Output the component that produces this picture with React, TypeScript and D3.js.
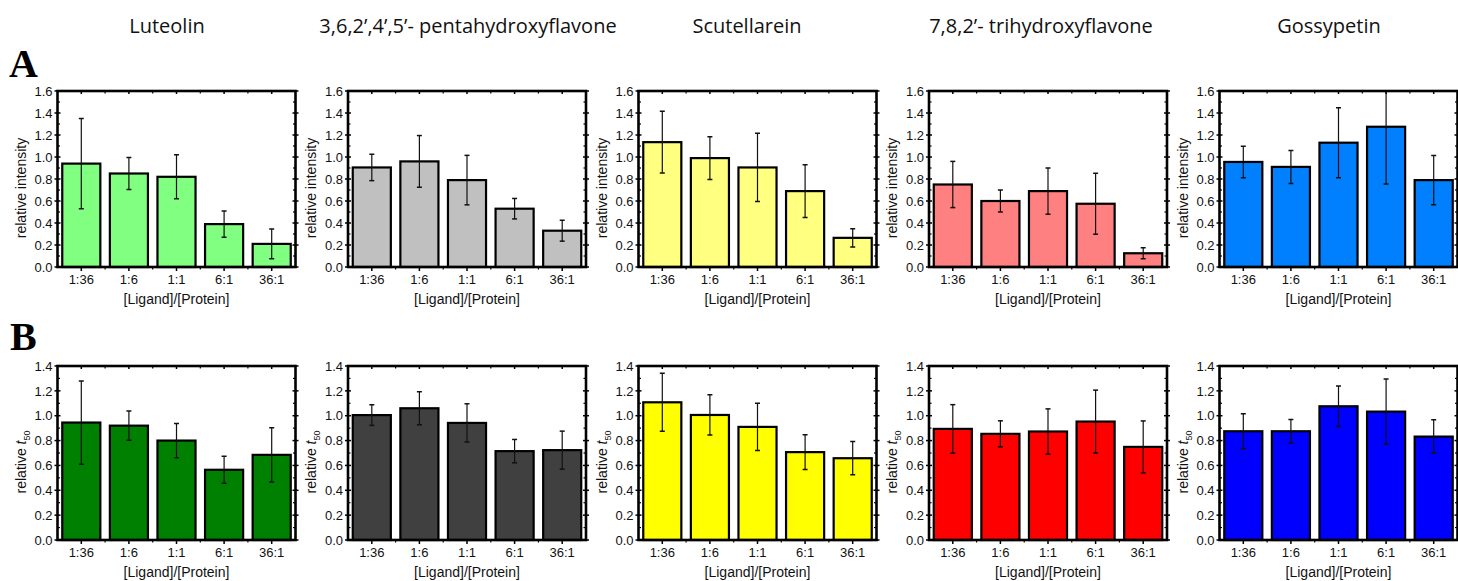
import React from "react";
import * as d3 from "d3";

// ---- data ----
const categories = ["1:36", "1:6", "1:1", "6:1", "36:1"];
const compounds = [
  "Luteolin",
  "3,6,2’,4’,5’- pentahydroxyflavone",
  "Scutellarein",
  "7,8,2’- trihydroxyflavone",
  "Gossypetin",
];

// Panel A: relative intensity
const intensityLuteolin = [0.94, 0.85, 0.82, 0.39, 0.21];
const intensityLuteolinErr = [0.41, 0.145, 0.2, 0.12, 0.135];
const intensityPenta = [0.905, 0.96, 0.79, 0.53, 0.33];
const intensityPentaErr = [0.12, 0.235, 0.225, 0.093, 0.095];
const intensityScut = [1.135, 0.99, 0.905, 0.69, 0.265];
const intensityScutErr = [0.28, 0.195, 0.31, 0.24, 0.083];
const intensityTri = [0.75, 0.6, 0.69, 0.575, 0.125];
const intensityTriErr = [0.21, 0.1, 0.21, 0.277, 0.05];
const intensityGossy = [0.955, 0.91, 1.13, 1.275, 0.79];
const intensityGossyErr = [0.143, 0.15, 0.318, 0.52, 0.224];

// Panel B: relative t50
const t50Luteolin = [0.945, 0.92, 0.8, 0.565, 0.685];
const t50LuteolinErr = [0.335, 0.117, 0.138, 0.108, 0.218];
const t50Penta = [1.005, 1.06, 0.942, 0.715, 0.723];
const t50PentaErr = [0.083, 0.133, 0.154, 0.094, 0.153];
const t50Scut = [1.108, 1.006, 0.91, 0.707, 0.658];
const t50ScutErr = [0.234, 0.162, 0.19, 0.14, 0.134];
const t50Tri = [0.894, 0.854, 0.873, 0.953, 0.749];
const t50TriErr = [0.195, 0.105, 0.182, 0.253, 0.209];
const t50Gossy = [0.875, 0.875, 1.076, 1.033, 0.832];
const t50GossyErr = [0.14, 0.094, 0.163, 0.262, 0.135];

const yTicksA = [0, 0.2, 0.4, 0.6, 0.8, 1.0, 1.2, 1.4, 1.6];
const yTicksB = [0, 0.2, 0.4, 0.6, 0.8, 1.0, 1.2, 1.4];

const colorsA = ["#80FF80", "#C0C0C0", "#FFFF80", "#FF8080", "#0080FF"];
const colorsB = ["#008000", "#404040", "#FFFF00", "#FF0000", "#0000FF"];

const seriesA = [
  [intensityLuteolin, intensityLuteolinErr],
  [intensityPenta, intensityPentaErr],
  [intensityScut, intensityScutErr],
  [intensityTri, intensityTriErr],
  [intensityGossy, intensityGossyErr],
];
const seriesB = [
  [t50Luteolin, t50LuteolinErr],
  [t50Penta, t50PentaErr],
  [t50Scut, t50ScutErr],
  [t50Tri, t50TriErr],
  [t50Gossy, t50GossyErr],
];

// ---- layout ----
const W = 1458;
const H = 581;
const plotLeft0 = 57.5;
const plotStep = 290.5;
const plotW = 238;
const titleCenters = [167, 468, 747, 1041, 1329];
const axisFont = "Liberation Sans, Arial, Helvetica, sans-serif";

type PanelProps = {
  idx: number;
  row: "A" | "B";
  top: number;
  bottom: number;
  values: number[];
  errs: number[];
  fill: string;
  yMax: number;
  yTicks: number[];
};

function Panel({ idx, row, top, bottom, values, errs, fill, yMax, yTicks }: PanelProps) {
  const left = plotLeft0 + idx * plotStep;
  const right = left + plotW;
  const x = d3.scaleBand<string>().domain(categories).range([left, right]).paddingInner(0.2).paddingOuter(0.1);
  const y = d3.scaleLinear().domain([0, yMax]).range([bottom, top]);
  const bw = x.bandwidth();
  const step = x.step();
  const minorY = d3.range(0.1, yMax, 0.2);
  const clipId = `clip-${row}-${idx}`;
  const boundaries = categories.slice(0, -1).map((c) => (x(c) as number) + bw + (step - bw) / 2);
  const cy = (top + bottom) / 2 + 9;
  const ax = left - 37;
  return (
    <g>
      <defs>
        <clipPath id={clipId}>
          <rect x={left} y={top} width={plotW} height={bottom - top} />
        </clipPath>
      </defs>
      {categories.map((c, i) => (
        <rect
          key={c}
          x={x(c)}
          y={y(values[i])}
          width={bw}
          height={bottom - y(values[i])}
          fill={fill}
          stroke="#000"
          strokeWidth={2.2}
        />
      ))}
      <g clipPath={`url(#${clipId})`}>
        {categories.map((c, i) => {
          const cx = (x(c) as number) + bw / 2;
          const y1 = y(values[i] + errs[i]);
          const y2 = y(values[i] - errs[i]);
          return (
            <g key={c} stroke="#111" strokeWidth={1.2}>
              <line x1={cx} x2={cx} y1={y1} y2={y2} />
              <line x1={cx - 2.5} x2={cx + 2.5} y1={y1} y2={y1} strokeWidth={1.5} />
              <line x1={cx - 2.5} x2={cx + 2.5} y1={y2} y2={y2} strokeWidth={1.5} />
            </g>
          );
        })}
      </g>
      <rect x={left} y={top} width={plotW} height={bottom - top} fill="none" stroke="#000" strokeWidth={2.6} />
      {yTicks.map((t) => (
        <g key={t}>
          <line x1={left - 3} x2={left + 3} y1={y(t)} y2={y(t)} stroke="#000" strokeWidth={1.5} />
          <line x1={right - 3} x2={right + 3} y1={y(t)} y2={y(t)} stroke="#000" strokeWidth={1.5} />
          <text
            x={left - 5}
            y={y(t)}
            dy="0.36em"
            textAnchor="end"
            fontFamily={axisFont}
            fontSize={13}
            fill="#111"
          >
            {d3.format(".1f")(t)}
          </text>
        </g>
      ))}
      {minorY.map((t) => (
        <g key={"m" + t}>
          <line x1={left} x2={left + 2.5} y1={y(t)} y2={y(t)} stroke="#000" strokeWidth={1.2} />
          <line x1={right - 2.5} x2={right} y1={y(t)} y2={y(t)} stroke="#000" strokeWidth={1.2} />
        </g>
      ))}
      {categories.map((c) => {
        const cx = (x(c) as number) + bw / 2;
        return (
          <g key={"x" + c}>
            <line x1={cx} x2={cx} y1={bottom} y2={bottom + 4} stroke="#000" strokeWidth={1.5} />
            <line x1={cx} x2={cx} y1={top} y2={top + 3} stroke="#000" strokeWidth={1.5} />
            <text
              x={cx}
              y={bottom + 17}
              textAnchor="middle"
              fontFamily={axisFont}
              fontSize={13}
              fill="#111"
            >
              {c}
            </text>
          </g>
        );
      })}
      {boundaries.map((b, i) => (
        <g key={"b" + i}>
          <line x1={b} x2={b} y1={bottom} y2={bottom + 2.5} stroke="#000" strokeWidth={1.2} />
          <line x1={b} x2={b} y1={top} y2={top + 2.5} stroke="#000" strokeWidth={1.2} />
        </g>
      ))}
      <text
        x={(left + right) / 2}
        y={bottom + 37}
        textAnchor="middle"
        fontFamily={axisFont}
        fontSize={14}
        fill="#111"
      >
        [Ligand]/[Protein]
      </text>
      <text
        transform={`translate(${ax},${cy}) rotate(-90)`}
        textAnchor="middle"
        dy="0.36em"
        fontFamily={axisFont}
        fontSize={14}
        fill="#111"
      >
        {row === "A" ? (
          "relative intensity"
        ) : (
          <>
            relative <tspan fontStyle="italic">t</tspan>
            <tspan fontSize={9} dy={4}>
              50
            </tspan>
          </>
        )}
      </text>
    </g>
  );
}

export default function App() {
  return (
    <svg
      width={W}
      height={H}
      style={{ position: "absolute", left: 0, top: 0, background: "#fff" }}
      xmlns="http://www.w3.org/2000/svg"
    >
      <rect x={0} y={0} width={W} height={H} fill="#fff" />
      {compounds.map((name, i) => (
        <text
          key={name}
          x={titleCenters[i]}
          y={33}
          textAnchor="middle"
          fontFamily="Open Sans, Noto Sans, sans-serif"
          fontSize={20}
          fill="#111"
        >
          {name}
        </text>
      ))}
      <text x={9} y={77} fontFamily="Liberation Serif, Times New Roman, serif" fontWeight="bold" fontSize={40} fill="#000">
        A
      </text>
      <text x={10} y={350} fontFamily="Liberation Serif, Times New Roman, serif" fontWeight="bold" fontSize={40} fill="#000">
        B
      </text>
      {seriesA.map(([v, e], i) => (
        <Panel
          key={"A" + i}
          idx={i}
          row="A"
          top={91}
          bottom={267}
          values={v}
          errs={e}
          fill={colorsA[i]}
          yMax={1.6}
          yTicks={yTicksA}
        />
      ))}
      {seriesB.map(([v, e], i) => (
        <Panel
          key={"B" + i}
          idx={i}
          row="B"
          top={366}
          bottom={540}
          values={v}
          errs={e}
          fill={colorsB[i]}
          yMax={1.4}
          yTicks={yTicksB}
        />
      ))}
    </svg>
  );
}
